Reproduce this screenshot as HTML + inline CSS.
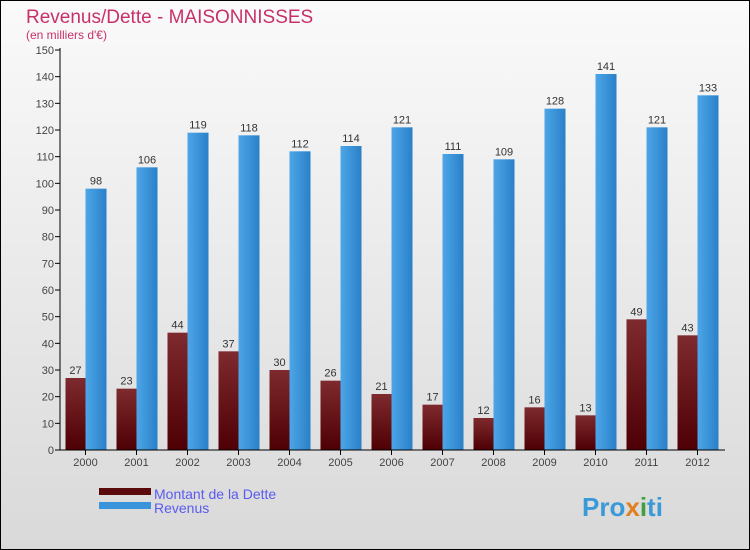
<!DOCTYPE html>
<html><head><meta charset="utf-8"><style>
body{margin:0}
#c{width:748px;height:548px;border:1px solid #000;background:linear-gradient(#fafafa,#d9d9d9);position:relative;font-family:"Liberation Sans",sans-serif;overflow:hidden}
#s{position:absolute;left:-1px;top:-1px}
</style></head><body>
<div id="c">
<svg width="750" height="550" xmlns="http://www.w3.org/2000/svg" id="s">
<defs>
<linearGradient id="gd" x1="0" y1="0" x2="0" y2="1"><stop offset="0" stop-color="#7e2a2e"/><stop offset="1" stop-color="#4e0004"/></linearGradient>
<linearGradient id="gr" x1="0" y1="0" x2="1" y2="0"><stop offset="0" stop-color="#4da6e8"/><stop offset="1" stop-color="#2a80c8"/></linearGradient>
</defs>
<text x="26" y="23" font-size="19" fill="#c8306a">Revenus/Dette - MAISONNISSES</text>
<text x="26" y="39" font-size="12" fill="#c8306a">(en milliers d'€)</text>
<g id="g"></g>
<rect x="99" y="488" width="52" height="7" fill="#5a0a0c"/>
<rect x="99" y="502" width="52" height="7" fill="#3a94dc"/>
<text x="154" y="499" font-size="14" fill="#5a5af0">Montant de la Dette</text>
<text x="154" y="513" font-size="14" fill="#5a5af0">Revenus</text>
<text x="582" y="516" font-size="26" font-weight="bold" fill="#3a9ad8">Pro<tspan fill="#e08020">x</tspan><tspan fill="#40a040">i</tspan>ti</text>
</svg></div>
<script>
const years=["2000","2001","2002","2003","2004","2005","2006","2007","2008","2009","2010","2011","2012"];
const dette=[27,23,44,37,30,26,21,17,12,16,13,49,43];
const revenus=[98,106,119,118,112,114,121,111,109,128,141,121,133];
const yTicks=[0,10,20,30,40,50,60,70,80,90,100,110,120,130,140,150];
const NS="http://www.w3.org/2000/svg",g=document.getElementById('g');
const y=v=>450-v*400/150, xc=i=>60+25.5+i*51;
function mk(t,a,txt){const e=document.createElementNS(NS,t);for(const k in a)e.setAttribute(k,a[k]);if(txt!=null)e.textContent=txt;g.appendChild(e);return e;}
yTicks.forEach(v=>{
 const l=mk('line',{x1:55,x2:60,y1:y(v),y2:y(v),stroke:'#000'});
 
 
 const t=mk('text',{x:54,y:y(v)+4,'font-size':11,fill:'#444','text-anchor':'end'},v);
 
 
});
years.forEach((yr,i)=>{
 const c=xc(i);
 const b1=mk('rect',{x:c-20,y:y(dette[i]),width:20,height:450-y(dette[i]),fill:'url(#gd)'});
 
 
 const b2=mk('rect',{x:c,y:y(revenus[i]),width:21,height:450-y(revenus[i]),fill:'url(#gr)'});
 
 
 const t1=mk('text',{x:c-10,y:y(dette[i])-4,'font-size':11,fill:'#333','text-anchor':'middle'},dette[i]);
 
 
 const t2=mk('text',{x:c+10.5,y:y(revenus[i])-4,'font-size':11,fill:'#333','text-anchor':'middle'},revenus[i]);
 
 
 const tk=mk('line',{x1:c,x2:c,y1:450,y2:455,stroke:'#000'});
 
 
 const xl=mk('text',{x:c,y:466,'font-size':11,fill:'#444','text-anchor':'middle'},yr);
 
 
});
const ax=mk('path',{d:'M60 48V450H725',stroke:'#000',fill:'none'});


</script>
</body></html>
